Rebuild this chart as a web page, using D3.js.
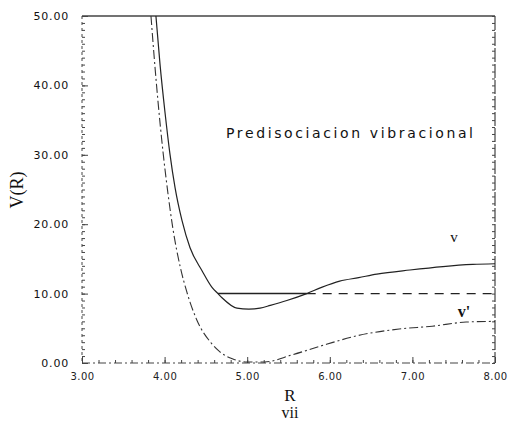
<!DOCTYPE html>
<html>
<head>
<meta charset="utf-8">
<script src="https://cdn.jsdelivr.net/npm/d3@7"></script>
<style>
  html, body { margin: 0; padding: 0; background: #fff; }
  svg { display: block; }
</style>
</head>
<body>
<svg id="chart" width="509" height="423"></svg>
<script>
// ---- data ----
const xTicks = [3, 4, 5, 6, 7, 8];
const yTicks = [0, 10, 20, 30, 40, 50];

// upper potential curve (v)
const upperR = [3.895, 3.944, 4.005, 4.065, 4.126, 4.211, 4.308, 4.453, 4.574, 4.646, 4.695, 4.876, 5.02, 5.155, 5.28, 5.48, 5.72, 5.90, 6.12, 6.35, 6.57, 6.97, 7.37, 7.73, 8.00];
const upperV = [50, 43.1, 36.1, 30.1, 25.3, 20.5, 16.6, 13.3, 10.9, 10.0, 9.4, 7.9, 7.75, 7.9, 8.3, 9.0, 10.0, 10.9, 11.8, 12.3, 12.8, 13.4, 13.9, 14.2, 14.3];

// lower potential curve (v')
const lowerR = [3.835, 3.884, 3.92, 3.98, 4.04, 4.10, 4.19, 4.27, 4.39, 4.57, 4.66, 4.82, 5.00, 5.21, 5.55, 5.96, 6.32, 6.84, 7.24, 7.65, 8.00];
const lowerV = [50, 42.6, 37.7, 30.5, 24.5, 19.4, 13.8, 10.2, 6.2, 2.8, 1.7, 0.6, 0.15, 0.15, 1.2, 2.7, 3.9, 4.9, 5.3, 5.9, 6.0];

// vibrational level
const levelV = 10;
const levelSolidR = [4.646, 5.72];
const levelDashR = [5.72, 8.0];

const titleText = "Predisociacion vibracional";
const yLabel = "V(R)";
const xLabel = "R";
const caption = "vii";
const labelV = "v";
const labelVp = "v'";

// ---- drawing ----
const svg = d3.select("#chart");
const L = 82, R = 495, T = 16, B = 363;
const x = d3.scaleLinear().domain([3, 8]).range([L, R]);
const y = d3.scaleLinear().domain([0, 50]).range([B, T]);
const axisCol = "#444";
const lineCol = "#222";

// frame
svg.append("line").attr("x1", L).attr("x2", R).attr("y1", T).attr("y2", T)
  .attr("stroke", axisCol).attr("stroke-width", 1.3);
svg.append("line").attr("x1", R).attr("x2", R).attr("y1", T).attr("y2", B)
  .attr("stroke", axisCol).attr("stroke-width", 1.2).attr("stroke-dasharray", "14,2");
svg.append("line").attr("x1", L).attr("x2", L).attr("y1", T).attr("y2", B)
  .attr("stroke", axisCol).attr("stroke-width", 1).attr("stroke-dasharray", "3,3");
svg.append("line").attr("x1", L).attr("x2", R).attr("y1", B).attr("y2", B)
  .attr("stroke", axisCol).attr("stroke-width", 1.2).attr("stroke-dasharray", "8,3,2,3");

function styleAxis(g) {
  g.select(".domain").remove();
  g.selectAll(".tick line").attr("stroke", axisCol).attr("stroke-width", 1);
}

// minor ticks
const minorY = d3.range(0, 50.01, 1);
svg.append("g").attr("transform", `translate(${L},0)`)
  .call(d3.axisLeft(y).tickValues(minorY).tickSize(-3).tickFormat(""))
  .call(styleAxis);
svg.append("g").attr("transform", `translate(${R},0)`)
  .call(d3.axisRight(y).tickValues(minorY).tickSize(-3).tickFormat(""))
  .call(styleAxis);
const minorX = d3.range(3, 8.001, 0.2);
svg.append("g").attr("transform", `translate(0,${B})`)
  .call(d3.axisBottom(x).tickValues(minorX).tickSize(-3).tickFormat(""))
  .call(styleAxis);

// major axes with labels
const gy = svg.append("g").attr("transform", `translate(${L},0)`)
  .call(d3.axisLeft(y).tickValues(yTicks).tickSize(-6).tickPadding(13).tickFormat(d3.format(".2f")))
  .call(styleAxis);
gy.selectAll("text").attr("font-family", "DejaVu Sans, sans-serif").attr("font-size", 11)
  .attr("letter-spacing", "0.8px").attr("fill", "#111");

const gx = svg.append("g").attr("transform", `translate(0,${B})`)
  .call(d3.axisBottom(x).tickValues(xTicks).tickSize(-6).tickPadding(10).tickFormat(d3.format(".2f")))
  .call(styleAxis);
gx.selectAll("text").attr("font-family", "DejaVu Sans, sans-serif").attr("font-size", 10)
  .attr("letter-spacing", "0.5px").attr("fill", "#222");

// curves
const line = d3.line().x(d => x(d[0])).y(d => y(d[1])).curve(d3.curveMonotoneX);

svg.append("path").datum(upperR.map((r, i) => [r, upperV[i]]))
  .attr("d", line).attr("fill", "none").attr("stroke", lineCol).attr("stroke-width", 1.2);

svg.append("path").datum(lowerR.map((r, i) => [r, lowerV[i]]))
  .attr("d", line).attr("fill", "none").attr("stroke", "#333").attr("stroke-width", 1.1)
  .attr("stroke-dasharray", "9,3,2,3");

// level
svg.append("line").attr("x1", x(levelSolidR[0])).attr("x2", x(levelSolidR[1]))
  .attr("y1", y(levelV)).attr("y2", y(levelV)).attr("stroke", lineCol).attr("stroke-width", 1.5);
svg.append("line").attr("x1", x(levelDashR[0])).attr("x2", x(levelDashR[1]))
  .attr("y1", y(levelV)).attr("y2", y(levelV)).attr("stroke", lineCol).attr("stroke-width", 1.2)
  .attr("stroke-dasharray", "9,7");

// texts
svg.append("text").attr("x", 226).attr("y", 138).text(titleText)
  .attr("font-family", "DejaVu Sans, sans-serif").attr("font-size", 14)
  .attr("textLength", 247).attr("lengthAdjust", "spacing").attr("fill", "#111");

svg.append("text").attr("x", 454).attr("y", 242).attr("text-anchor", "middle").text(labelV)
  .attr("font-family", "Liberation Serif, serif").attr("font-size", 15).attr("fill", "#111");
svg.append("text").attr("x", 464).attr("y", 317).attr("text-anchor", "middle").text(labelVp)
  .attr("font-family", "Liberation Serif, serif").attr("font-size", 16).attr("font-weight", "bold").attr("fill", "#111");

svg.append("text").attr("transform", "translate(23,190) rotate(-90)").attr("text-anchor", "middle")
  .text(yLabel).attr("font-family", "Liberation Serif, serif").attr("font-size", 18).attr("fill", "#111");

svg.append("text").attr("x", 290).attr("y", 401).attr("text-anchor", "middle").text(xLabel)
  .attr("font-family", "Liberation Serif, serif").attr("font-size", 17).attr("fill", "#111");
svg.append("text").attr("x", 290).attr("y", 418).attr("text-anchor", "middle").text(caption)
  .attr("font-family", "Liberation Serif, serif").attr("font-size", 16).attr("fill", "#111");
</script>
</body>
</html>
